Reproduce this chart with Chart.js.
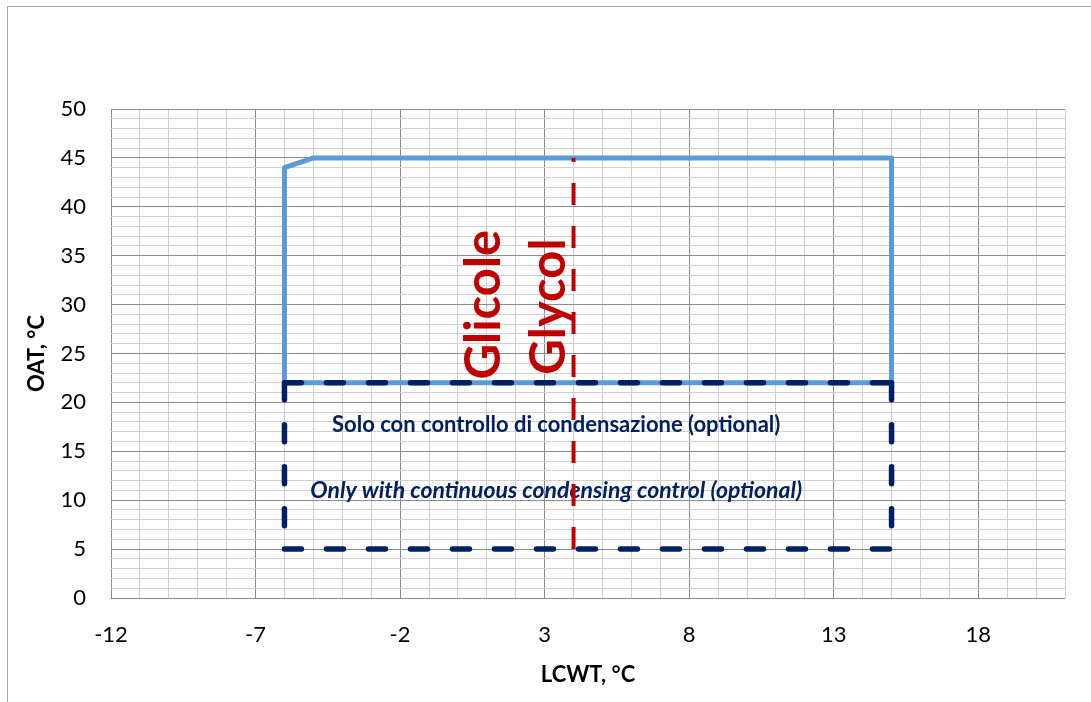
<!DOCTYPE html>
<html>
<head>
<meta charset="utf-8">
<script src="https://cdn.jsdelivr.net/npm/chart.js@4/dist/chart.umd.min.js"></script>
<style>
  html, body { margin: 0; padding: 0; background: #fff; overflow: hidden; }
  #wrap { position: relative; width: 1091px; height: 702px; }
  #frame { position: absolute; left: 7px; top: 6px; width: 1200px; height: 800px; border: 1px solid #a6a6a6; }
  #myChart { position: absolute; left: 0; top: 0; }
</style>
</head>
<body>
<div id="wrap">
  <div id="frame"></div>
  <canvas id="myChart" width="1091" height="702"></canvas>
</div>
<script>
// Limiti di funzionamento (LCWT / OAT)
const envelopeX = [-6, -6, -5, 15, 15, -6];
const envelopeY = [22, 44, 45, 45, 22, 22];

// Zona con controllo di condensazione (4 lati separati, null = interruzione)
const condensX = [-6, 15, null, -6, 15, null, -6, -6, null, 15, 15];
const condensY = [22, 22, null, 5, 5, null, 22, 5, null, 22, 5];

// Linea glicole
const glycolX = [4, 4];
const glycolY = [5, 45];

// Assi
const xMin = -12, xMax = 21, xMajor = 5;
const yMin = 0, yMax = 50, yMajor = 5;

const xTitle = 'LCWT, °C';
const yTitle = 'OAT, °C';
const glycolLabels = ['Glicole', 'Glycol'];
const noteLabels = ['Solo con controllo di condensazione (optional)',
                    'Only with continuous condensing control (optional)'];

const FONT = 'Lato, "Open Sans", sans-serif';

function toPoints(xs, ys) {
    return xs.map((x, i) => ({ x: x, y: ys[i] }));
}

// Testi dentro al grafico
const notesPlugin = {
    id: 'notes',
    beforeDatasetsDraw(chart) {
        const { ctx, scales: { x, y } } = chart;
        ctx.save();

        // Glicole / Glycol, ruotati
        ctx.fillStyle = '#C00000';
        ctx.font = 'bold 49px ' + FONT;
        ctx.textAlign = 'center';
        ctx.textBaseline = 'middle';
        const rot = [[0.9, 30], [3.15, 29.8]];
        glycolLabels.forEach((t, i) => {
            ctx.save();
            ctx.translate(x.getPixelForValue(rot[i][0]), y.getPixelForValue(rot[i][1]));
            ctx.rotate(-Math.PI / 2);
            ctx.fillText(t, 0, 0);
            ctx.restore();
        });

        // Note blu
        ctx.fillStyle = '#002060';
        ctx.font = 'bold 22px ' + FONT;
        ctx.fillText(noteLabels[0], x.getPixelForValue(3.4), y.getPixelForValue(17.7));
        ctx.font = 'italic bold 23px ' + FONT;
        ctx.fillText(noteLabels[1], x.getPixelForValue(3.4), y.getPixelForValue(11));
        ctx.restore();
    }
};

const ctx = document.getElementById('myChart');

new Chart(ctx, {
    type: 'scatter',
    data: {
        datasets: [
            {
                label: 'condensazione',
                data: toPoints(condensX, condensY),
                showLine: true,
                spanGaps: false,
                borderColor: '#002060',
                borderWidth: 5.5,
                borderDash: [17, 25],
                borderCapStyle: 'round',
                pointRadius: 0,
                order: 1
            },
            {
                label: 'glicole',
                data: toPoints(glycolX, glycolY),
                showLine: true,
                borderColor: '#C00000',
                borderWidth: 4,
                borderDash: [22, 21],
                pointRadius: 0,
                order: 2
            },
            {
                label: 'limiti',
                data: toPoints(envelopeX, envelopeY),
                showLine: true,
                borderColor: '#5B9BD5',
                borderWidth: 5,
                borderJoinStyle: 'round',
                pointRadius: 0,
                order: 3
            }
        ]
    },
    options: {
        responsive: false,
        animation: false,
        layout: { padding: { left: 0, right: 26, top: 109, bottom: 0 } },
        plugins: {
            legend: { display: false },
            tooltip: { enabled: false }
        },
        scales: {
            x: {
                type: 'linear',
                min: xMin,
                max: xMax,
                afterFit: (s) => { s.height = 104; },
                ticks: {
                    stepSize: 1,
                    autoSkip: false,
                    maxRotation: 0,
                    padding: 24,
                    color: '#000',
                    font: { family: FONT, size: 22 },
                    callback: (v) => ((v - xMin) % xMajor === 0 ? v : '')
                },
                grid: {
                    drawTicks: false,
                    color: (c) => ((c.tick.value - xMin) % xMajor === 0 ? '#8c8c8c' : '#d0d0d0')
                },
                border: { display: false },
                title: {
                    display: true,
                    text: xTitle,
                    color: '#000',
                    font: { family: FONT, size: 22, weight: 'bold' },
                    padding: { top: 0, bottom: 14 }
                }
            },
            y: {
                type: 'linear',
                min: yMin,
                max: yMax,
                afterFit: (s) => { s.width = 111; },
                ticks: {
                    stepSize: 1,
                    autoSkip: false,
                    padding: 25,
                    color: '#000',
                    font: { family: FONT, size: 22 },
                    callback: (v) => (v % yMajor === 0 ? v : '')
                },
                grid: {
                    drawTicks: false,
                    color: (c) => (c.tick.value % yMajor === 0 ? '#8c8c8c' : '#d0d0d0')
                },
                border: { display: false },
                title: {
                    display: true,
                    text: yTitle,
                    color: '#000',
                    font: { family: FONT, size: 22, weight: 'bold' },
                    padding: { top: 24, bottom: 0 }
                }
            }
        }
    },
    plugins: [notesPlugin]
});
</script>
</body>
</html>
